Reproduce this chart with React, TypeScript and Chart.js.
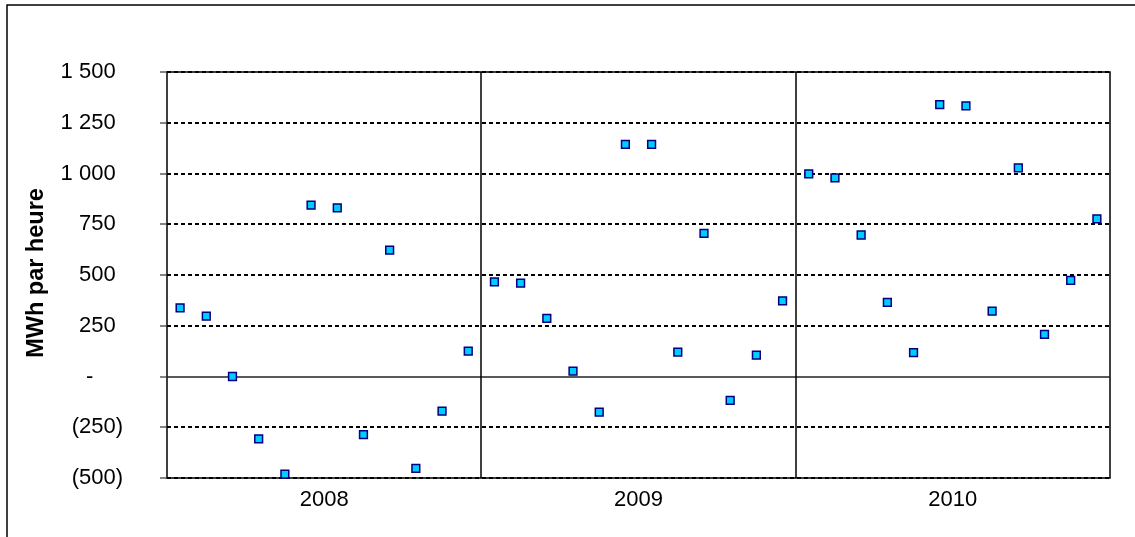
import React, { useEffect, useRef } from "react";
import { Chart, registerables } from "chart.js";

Chart.register(...registerables);

const years = ["2008", "2009", "2010"];
const values2008 = [338, 297, 0, -307, -481, 844, 831, -286, 622, -453, -171, 125];
const values2009 = [466, 460, 286, 26, -176, 1144, 1144, 120, 705, -118, 105, 373];
const values2010 = [998, 978, 697, 365, 118, 1339, 1333, 322, 1028, 207, 473, 777];
const yTicks = [-500, -250, 0, 250, 500, 750, 1000, 1250, 1500];
const yTitle = "MWh par heure";

const FONT = '"Liberation Sans", Arial, sans-serif';

function fmtThousands(n: number): string {
  const s = String(Math.round(n));
  return s.replace(/\B(?=(\d{3})+(?!\d))/g, " ");
}

function formatTick(v: number): string {
  if (v === 0) return "-";
  if (v < 0) return "(" + fmtThousands(-v) + ")";
  return fmtThousands(v);
}

const axisPlugin = {
  id: "excelAxes",
  beforeDatasetsDraw(chart: any) {
    const { ctx, chartArea, scales } = chart;
    const xs = scales.x;
    const ys = scales.y;
    const { left, right, top, bottom } = chartArea;
    ctx.save();
    // outer frame
    ctx.strokeStyle = "#000";
    ctx.lineWidth = 1.5;
    ctx.beginPath();
    ctx.moveTo(7, 1200);
    ctx.lineTo(7, 5);
    ctx.lineTo(1200, 5);
    ctx.stroke();

    // plot border
    ctx.lineWidth = 1.5;
    ctx.strokeStyle = "#000";
    ctx.strokeRect(left, top, right - left, bottom - top);

    // horizontal grid
    yTicks.forEach((v) => {
      const y = Math.round(ys.getPixelForValue(v));
      ctx.beginPath();
      if (v === 0) {
        ctx.setLineDash([]);
        ctx.lineWidth = 1.5;
        ctx.strokeStyle = "#222";
      } else {
        ctx.setLineDash([4, 3]);
        ctx.lineWidth = 2.2;
        ctx.strokeStyle = "#000";
      }
      ctx.moveTo(left, y);
      ctx.lineTo(right, y);
      ctx.stroke();
      // tick mark outside
      ctx.setLineDash([]);
      ctx.lineWidth = 1.2;
      ctx.strokeStyle = "#333";
      ctx.beginPath();
      ctx.moveTo(left - 7, y);
      ctx.lineTo(left, y);
      ctx.stroke();
    });

    // year dividers
    ctx.setLineDash([]);
    ctx.lineWidth = 1.5;
    ctx.strokeStyle = "#000";
    for (let i = 1; i < years.length; i++) {
      const x = Math.round(xs.getPixelForValue(i * 12));
      ctx.beginPath();
      ctx.moveTo(x, top);
      ctx.lineTo(x, bottom);
      ctx.stroke();
    }

    // y tick labels (accounting alignment)
    ctx.fillStyle = "#000";
    ctx.font = "22px " + FONT;
    ctx.textBaseline = "middle";
    ctx.textAlign = "right";
    const anchor = left - 44;
    const parenW = ctx.measureText(")").width;
    const digitW = ctx.measureText("0").width;
    yTicks.forEach((v) => {
      const y = ys.getPixelForValue(v);
      const label = formatTick(v);
      let x = anchor;
      if (v > 0) x = anchor - parenW;
      else if (v === 0) x = anchor - parenW - 2 * digitW + 2;
      ctx.fillText(label, x, y);
    });

    // x labels
    ctx.textAlign = "center";
    years.forEach((yr, i) => {
      const x = xs.getPixelForValue(i * 12 + 6);
      ctx.fillText(yr, x, bottom + 22);
    });

    // y title
    ctx.save();
    ctx.translate(37, (top + bottom) / 2 - 2);
    ctx.rotate(-Math.PI / 2);
    ctx.font = "bold 23.5px " + FONT;
    ctx.textAlign = "center";
    ctx.textBaseline = "middle";
    ctx.fillText(yTitle, 0, 0);
    ctx.restore();

    ctx.restore();
  },
};

export default function App() {
  const ref = useRef<HTMLCanvasElement | null>(null);
  useEffect(() => {
    if (!ref.current) return;
    const allValues = [...values2008, ...values2009, ...values2010];
    const data = allValues.map((v, i) => ({ x: i + 0.5, y: v }));
    const chart = new Chart(ref.current, {
      type: "scatter",
      data: {
        datasets: [
          {
            label: yTitle,
            data,
            pointStyle: "rect",
            pointRadius: 5.5,
            pointBackgroundColor: "#00CCFF",
            pointBorderColor: "#000080",
            pointBorderWidth: 1.5,
            clip: false as any,
          },
        ],
      },
      options: {
        animation: false,
        responsive: false,
        devicePixelRatio: 1,
        layout: { padding: { left: 167, right: 25, top: 72, bottom: 59 } },
        plugins: { legend: { display: false }, tooltip: { enabled: false } },
        scales: {
          x: { type: "linear", display: false, min: 0, max: years.length * 12 },
          y: { type: "linear", display: false, min: -500, max: 1500 },
        },
      },
      plugins: [axisPlugin],
    });
    return () => chart.destroy();
  }, []);
  return (
    <div style={{ position: "fixed", left: 0, top: 0, width: 1135, height: 537, background: "#fff" }}>
      <canvas ref={ref} width={1135} height={537} style={{ width: 1135, height: 537, display: "block" }} />
    </div>
  );
}
